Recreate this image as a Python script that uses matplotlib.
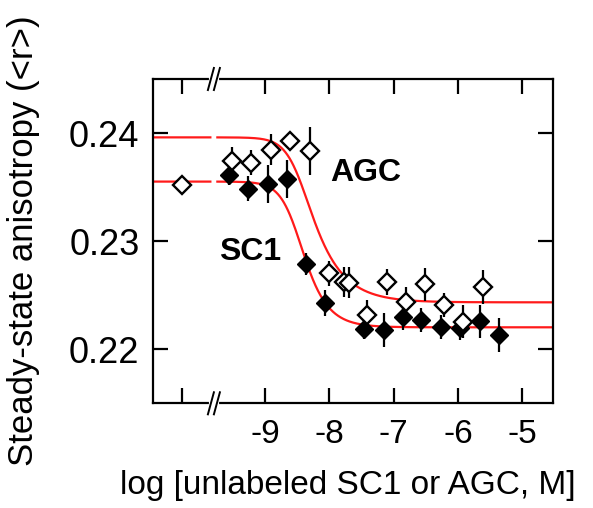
import matplotlib.pyplot as plt
import numpy as np

plt.rcParams.update({
    'font.family': ['Liberation Sans', 'DejaVu Sans'],
    'axes.unicode_minus': False,
    'axes.linewidth': 1.6,
})

# AGC (open diamonds); first point is the no-competitor control
agc_logc = [-10.30, -9.52, -9.22, -8.91, -8.61, -8.31, -8.00, -7.78, -7.70,
            -7.42, -7.11, -6.81, -6.51, -6.22, -5.92, -5.62]
agc_r = [0.23524, 0.23741, 0.23727, 0.23847, 0.23923, 0.23834, 0.22702, 0.22624,
         0.22617, 0.22317, 0.22624, 0.22440, 0.22600, 0.22409, 0.22255, 0.22578]
agc_err = [0.0, 0.0013, 0.00115, 0.00143, 0.0006, 0.0022, 0.00115, 0.0014,
           0.0014, 0.0014, 0.0012, 0.0014, 0.00155, 0.0011, 0.00155, 0.00155]

# SC1 (filled diamonds)
sc1_logc = [-9.57, -9.26, -8.96, -8.66, -8.37, -8.07, -7.46, -7.16, -6.86,
            -6.57, -6.26, -5.97, -5.66, -5.36]
sc1_r = [0.23610, 0.23487, 0.23529, 0.23575, 0.22788, 0.22432, 0.22183, 0.22178,
         0.22298, 0.22271, 0.22209, 0.22197, 0.22257, 0.22132]
sc1_err = [0.0009, 0.0012, 0.00175, 0.00175, 0.0010, 0.0012, 0.0009, 0.00155,
           0.0012, 0.0011, 0.0011, 0.0011, 0.0015, 0.00155]

# fitted curves: top, bottom, log midpoint, slope, asymmetry
agc_fit = (0.2396, 0.22434, -8.48, 2.8, 0.4)
sc1_fit = (0.23551, 0.22203, -8.52, 2.8, 0.6)

x_ticks = [-10.3, -9, -8, -7, -6, -5]
x_ticklabels = ['', '-9', '-8', '-7', '-6', '-5']
y_ticks = [0.22, 0.23, 0.24]
y_ticklabels = ['0.22', '0.23', '0.24']

XLIM = (-10.74, -4.52)
YLIM = (0.2150, 0.2450)
GAP = (-9.849, -9.746)   # axis break, curves are interrupted here


def curve(x, top, bot, x0, n, s):
    return bot + (top - bot) * (1 + 10 ** (n * (x - x0))) ** (-s)


fig = plt.figure(figsize=(5.93, 5.08), dpi=100)
ax = fig.add_axes([0.2585, 0.2061, 0.6745, 0.6384])

xs = np.linspace(XLIM[0], XLIM[1], 800)
gap = (xs > GAP[0]) & (xs < GAP[1])
for p in (agc_fit, sc1_fit):
    ys = curve(xs, *p)
    ys[gap] = np.nan
    ax.plot(xs, ys, color='#FF1A1A', lw=1.6, zorder=2)

ax.errorbar(sc1_logc, sc1_r, yerr=sc1_err, fmt='none', ecolor='black',
            elinewidth=1.6, capsize=0, zorder=3)
ax.errorbar(agc_logc, agc_r, yerr=agc_err, fmt='none', ecolor='black',
            elinewidth=1.6, capsize=0, zorder=3)
ax.plot(sc1_logc, sc1_r, 'D', ms=9.5, mfc='black', mec='black', mew=1.0, zorder=4)
ax.plot(agc_logc, agc_r, 'D', ms=9.0, mfc='white', mec='black', mew=1.7, zorder=5)

ax.text(-7.99, 0.23557, 'AGC', fontsize=23, fontweight='bold', ha='left', va='baseline')
ax.text(-9.71, 0.22825, 'SC1', fontsize=23, fontweight='bold', ha='left', va='baseline')

ax.set_xlim(*XLIM)
ax.set_ylim(*YLIM)
ax.set_xticks(x_ticks)
ax.set_xticklabels(x_ticklabels)
ax.set_yticks(y_ticks)
ax.set_yticklabels(y_ticklabels)
ax.tick_params(direction='in', top=True, right=True, length=11, width=1.6,
               labelsize=24)
ax.tick_params(axis='x', pad=11)
ax.tick_params(axis='y', pad=10, labelsize=26)

ax.set_xlabel('log [unlabeled SC1 or AGC, M]', fontsize=24)
ax.set_ylabel('Steady-state anisotropy (<r>)', fontsize=25)
ax.xaxis.set_label_coords(0.487, -0.205)
ax.yaxis.set_label_coords(-0.283, 0.5)

# axis break marks on top and bottom spines
bx = (np.mean(GAP) - XLIM[0]) / (XLIM[1] - XLIM[0])
dx, dy, sep = 0.0075, 0.034, 0.0075
for yb in (0, 1):
    ax.plot([bx - sep, bx + sep], [yb, yb], color='white', lw=3,
            transform=ax.transAxes, clip_on=False, zorder=6)
    for c in (bx - sep, bx + sep):
        ax.plot([c - dx, c + dx], [yb - dy, yb + dy], color='black', lw=1.4,
                transform=ax.transAxes, clip_on=False, zorder=7)

fig.savefig('out.png', dpi=100)
